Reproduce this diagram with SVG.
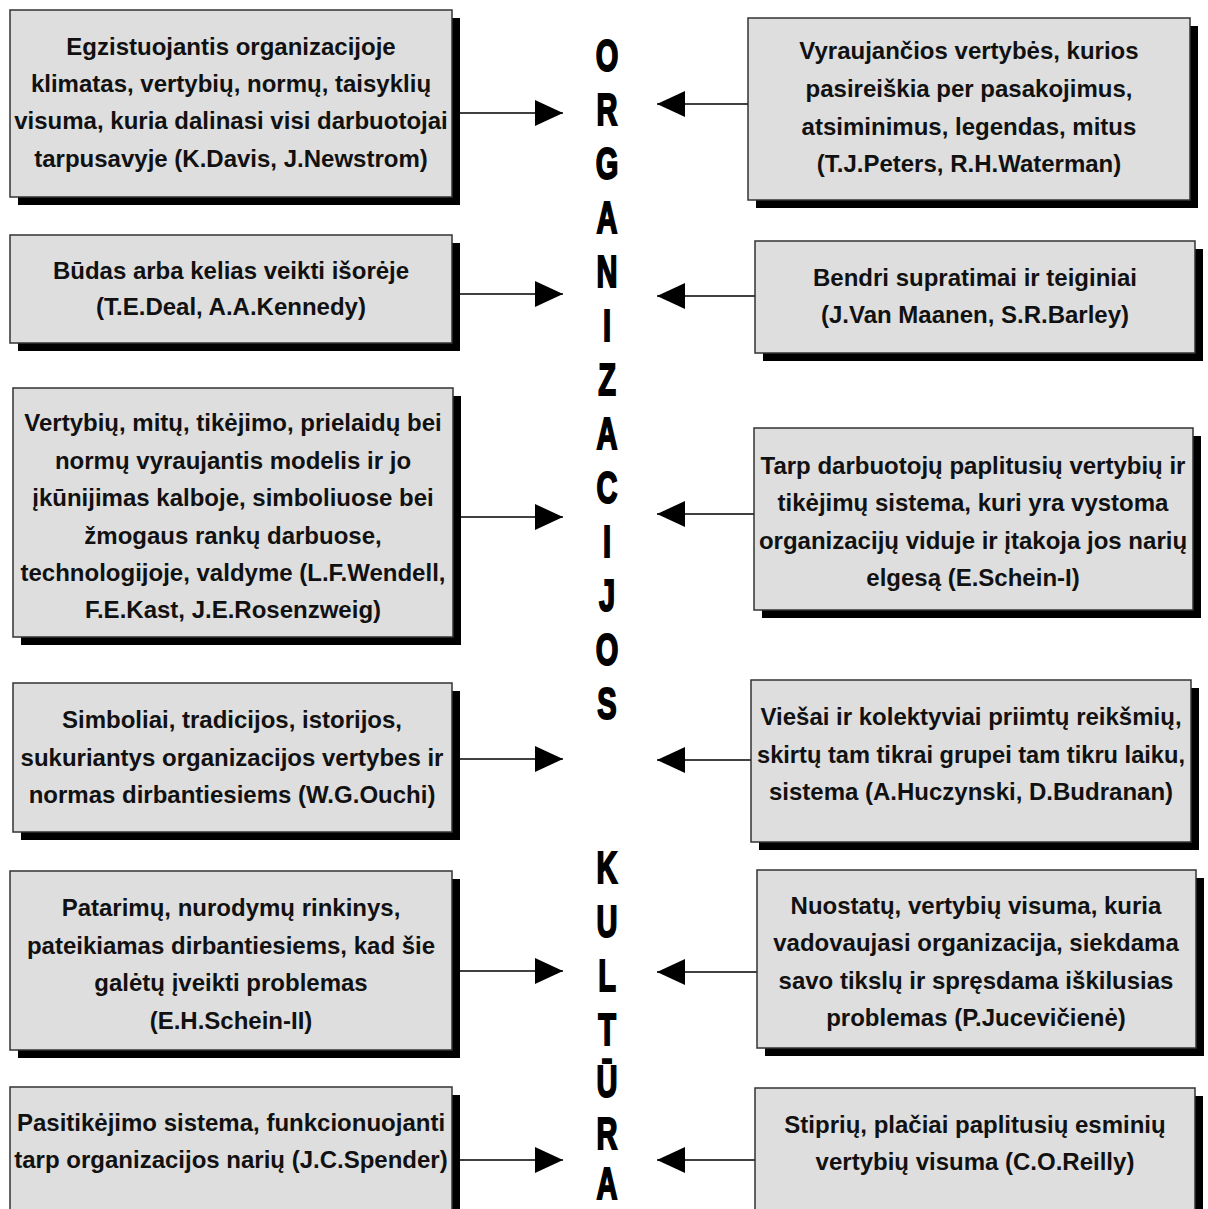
<svg xmlns="http://www.w3.org/2000/svg" width="1208" height="1209" viewBox="0 0 1208 1209">
<defs>
<style>
.box{fill:#dedede;stroke:#333;stroke-width:1.5}
.sh{fill:#000}
.t{font-family:"Liberation Sans",Arial,sans-serif;font-weight:bold;font-size:24px;fill:#111;text-anchor:middle}
.ln{stroke:#000;stroke-width:1.5;fill:none;marker-end:url(#ah)}
.big{font-family:"Liberation Sans",Arial,sans-serif;font-weight:bold;font-size:44px;fill:#000;stroke:#000;stroke-width:2;text-anchor:middle}
</style>
<marker id="ah" markerUnits="userSpaceOnUse" markerWidth="30" markerHeight="28" refX="28" refY="13" orient="auto">
<path d="M0,0 L28,13 L0,26 Z" fill="#000"/>
</marker>
</defs>
<rect width="1208" height="1209" fill="#fff"/>

<g id="title">
<g transform="translate(607,0) scale(0.66,1)">
<text class="big" x="0" y="71">O</text>
<text class="big" x="0" y="125">R</text>
<text class="big" x="0" y="179">G</text>
<text class="big" x="0" y="233">A</text>
<text class="big" x="0" y="287">N</text>
<text class="big" x="0" y="341">I</text>
<text class="big" x="0" y="395">Z</text>
<text class="big" x="0" y="449">A</text>
<text class="big" x="0" y="503">C</text>
<text class="big" x="0" y="557">I</text>
<text class="big" x="0" y="611">J</text>
<text class="big" x="0" y="665">O</text>
<text class="big" x="0" y="719">S</text>
<text class="big" x="0" y="883">K</text>
<text class="big" x="0" y="937">U</text>
<text class="big" x="0" y="991">L</text>
<text class="big" x="0" y="1045">T</text>
<text class="big" x="0" y="1097">Ū</text>
<text class="big" x="0" y="1149">R</text>
<text class="big" x="0" y="1199">A</text>
</g>
</g>

<g id="connectors">
<line class="ln" x1="452" y1="113" x2="563" y2="113"/>
<line class="ln" x1="748" y1="104" x2="657" y2="104"/>
<line class="ln" x1="452" y1="294" x2="563" y2="294"/>
<line class="ln" x1="755" y1="296" x2="657" y2="296"/>
<line class="ln" x1="453" y1="517" x2="563" y2="517"/>
<line class="ln" x1="754" y1="514" x2="657" y2="514"/>
<line class="ln" x1="452" y1="759" x2="563" y2="759"/>
<line class="ln" x1="751" y1="760" x2="657" y2="760"/>
<line class="ln" x1="452" y1="971" x2="563" y2="971"/>
<line class="ln" x1="757" y1="972" x2="657" y2="972"/>
<line class="ln" x1="452" y1="1160" x2="563" y2="1160"/>
<line class="ln" x1="755" y1="1160" x2="657" y2="1160"/>
</g>

<g id="L1">
<rect class="sh" x="18" y="18" width="442" height="187"/>
<rect class="box" x="10" y="10" width="442" height="187"/>
<text class="t" x="231" y="55">Egzistuojantis organizacijoje</text>
<text class="t" x="231" y="92">klimatas, vertybių, normų, taisyklių</text>
<text class="t" x="231" y="129">visuma, kuria dalinasi visi darbuotojai</text>
<text class="t" x="231" y="167">tarpusavyje (K.Davis, J.Newstrom)</text>
</g>

<g id="R1">
<rect class="sh" x="756" y="26" width="442" height="182"/>
<rect class="box" x="748" y="18" width="442" height="182"/>
<text class="t" x="969" y="59">Vyraujančios vertybės, kurios</text>
<text class="t" x="969" y="97">pasireiškia per pasakojimus,</text>
<text class="t" x="969" y="135">atsiminimus, legendas, mitus</text>
<text class="t" x="969" y="172">(T.J.Peters, R.H.Waterman)</text>
</g>

<g id="L2">
<rect class="sh" x="18" y="243" width="442" height="108"/>
<rect class="box" x="10" y="235" width="442" height="108"/>
<text class="t" x="231" y="279">Būdas arba kelias veikti išorėje</text>
<text class="t" x="231" y="315">(T.E.Deal, A.A.Kennedy)</text>
</g>

<g id="R2">
<rect class="sh" x="763" y="249" width="440" height="112"/>
<rect class="box" x="755" y="241" width="440" height="112"/>
<text class="t" x="975" y="286">Bendri supratimai ir teiginiai</text>
<text class="t" x="975" y="323">(J.Van Maanen, S.R.Barley)</text>
</g>

<g id="L3">
<rect class="sh" x="21" y="396" width="440" height="249"/>
<rect class="box" x="13" y="388" width="440" height="249"/>
<text class="t" x="233" y="431">Vertybių, mitų, tikėjimo, prielaidų bei</text>
<text class="t" x="233" y="469">normų vyraujantis modelis ir jo</text>
<text class="t" x="233" y="506">įkūnijimas kalboje, simboliuose bei</text>
<text class="t" x="233" y="544">žmogaus rankų darbuose,</text>
<text class="t" x="233" y="581">technologijoje, valdyme (L.F.Wendell,</text>
<text class="t" x="233" y="618">F.E.Kast, J.E.Rosenzweig)</text>
</g>

<g id="R3">
<rect class="sh" x="762" y="436" width="439" height="182"/>
<rect class="box" x="754" y="428" width="439" height="182"/>
<text class="t" x="973" y="474">Tarp darbuotojų paplitusių vertybių ir</text>
<text class="t" x="973" y="511">tikėjimų sistema, kuri yra vystoma</text>
<text class="t" x="973" y="549">organizacijų viduje ir įtakoja jos narių</text>
<text class="t" x="973" y="586">elgesą (E.Schein-I)</text>
</g>

<g id="L4">
<rect class="sh" x="21" y="691" width="439" height="149"/>
<rect class="box" x="13" y="683" width="439" height="149"/>
<text class="t" x="232" y="728">Simboliai, tradicijos, istorijos,</text>
<text class="t" x="232" y="766">sukuriantys organizacijos vertybes ir</text>
<text class="t" x="232" y="803">normas dirbantiesiems (W.G.Ouchi)</text>
</g>

<g id="R4">
<rect class="sh" x="759" y="688" width="440" height="162"/>
<rect class="box" x="751" y="680" width="440" height="162"/>
<text class="t" x="971" y="725">Viešai ir kolektyviai priimtų reikšmių,</text>
<text class="t" x="971" y="763" textLength="428" lengthAdjust="spacingAndGlyphs">skirtų tam tikrai grupei tam tikru laiku,</text>
<text class="t" x="971" y="800">sistema (A.Huczynski, D.Budranan)</text>
</g>

<g id="L5">
<rect class="sh" x="18" y="879" width="442" height="179"/>
<rect class="box" x="10" y="871" width="442" height="179"/>
<text class="t" x="231" y="916">Patarimų, nurodymų rinkinys,</text>
<text class="t" x="231" y="954">pateikiamas dirbantiesiems, kad šie</text>
<text class="t" x="231" y="991">galėtų įveikti problemas</text>
<text class="t" x="231" y="1029">(E.H.Schein-II)</text>
</g>

<g id="R5">
<rect class="sh" x="765" y="878" width="439" height="178"/>
<rect class="box" x="757" y="870" width="439" height="178"/>
<text class="t" x="976" y="914">Nuostatų, vertybių visuma, kuria</text>
<text class="t" x="976" y="951">vadovaujasi organizacija, siekdama</text>
<text class="t" x="976" y="989">savo tikslų ir spręsdama iškilusias</text>
<text class="t" x="976" y="1026">problemas (P.Jucevičienė)</text>
</g>

<g id="L6">
<rect class="sh" x="18" y="1095" width="442" height="150"/>
<rect class="box" x="10" y="1087" width="442" height="150"/>
<text class="t" x="231" y="1131">Pasitikėjimo sistema, funkcionuojanti</text>
<text class="t" x="231" y="1168">tarp organizacijos narių (J.C.Spender)</text>
</g>

<g id="R6">
<rect class="sh" x="763" y="1096" width="440" height="150"/>
<rect class="box" x="755" y="1088" width="440" height="150"/>
<text class="t" x="975" y="1133">Stiprių, plačiai paplitusių esminių</text>
<text class="t" x="975" y="1170">vertybių visuma (C.O.Reilly)</text>
</g>
</svg>
